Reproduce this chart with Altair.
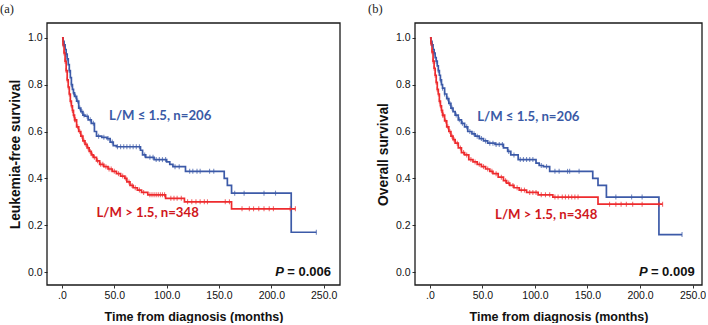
import altair as alt
import pandas as pd

# Axis ticks and their printed labels
month_ticks = [0, 50, 100, 150, 200, 250]
month_tick_labels = [".0", "50.0", "100.0", "150.0", "200.0", "250.0"]
surv_ticks = [0.0, 0.2, 0.4, 0.6, 0.8, 1.0]
surv_tick_labels = ["0.0", "0.2", "0.4", "0.6", "0.8", "1.0"]

groups = ["L/M \u2264 1.5", "L/M > 1.5"]
group_sizes = [206, 348]

# (a) Leukemia-free survival, L/M <= 1.5 : step times (months) and survival
lfs_low_t = [0, 1, 2, 3, 4, 5, 6, 7, 8, 9, 10, 11, 12, 14, 16, 18, 20, 22, 25, 28,
             31, 33, 38, 43, 46, 49, 52, 75, 77, 80, 88, 100, 103, 106, 118, 155,
             158, 162, 219]
lfs_low_s = [1.0, 0.985, 0.97, 0.95, 0.93, 0.91, 0.885, 0.86, 0.83, 0.80, 0.78,
             0.765, 0.75, 0.73, 0.70, 0.685, 0.67, 0.665, 0.65, 0.635, 0.60, 0.58,
             0.575, 0.57, 0.555, 0.54, 0.535, 0.52, 0.50, 0.49, 0.48, 0.47, 0.46,
             0.45, 0.43, 0.40, 0.37, 0.337, 0.17]
lfs_low_end = 243
lfs_low_censor = [2, 4, 5, 7, 9, 11, 13, 15, 17, 19, 21, 24, 27, 30, 35, 40, 44, 48,
                  53, 56, 59, 62, 65, 68, 71, 74, 79, 84, 87, 90, 93, 96, 99, 108,
                  112, 122, 125, 129, 132, 141, 145, 165, 174, 193, 204, 243]

# (a) Leukemia-free survival, L/M > 1.5
lfs_high_t = [0, 1, 2, 3, 4, 5, 6, 7, 8, 9, 10, 11, 12, 14, 16, 18, 20, 22, 24, 26,
              28, 30, 33, 36, 40, 44, 48, 52, 56, 60, 62, 65, 68, 72, 76, 82, 99,
              117, 162]
lfs_high_s = [1.0, 0.97, 0.935, 0.90, 0.86, 0.82, 0.79, 0.76, 0.73, 0.71, 0.69,
              0.67, 0.65, 0.62, 0.60, 0.58, 0.56, 0.545, 0.53, 0.515, 0.50, 0.49,
              0.475, 0.46, 0.45, 0.44, 0.43, 0.42, 0.41, 0.40, 0.385, 0.37, 0.36,
              0.35, 0.34, 0.33, 0.315, 0.30, 0.27]
lfs_high_end = 223
lfs_high_censor = [1, 2, 3, 4, 5, 6, 7, 8, 9, 10, 11, 12, 13, 15, 17, 19, 21, 23, 25,
                   27, 29, 31, 34, 37, 39, 42, 45, 47, 50, 54, 58, 61, 64, 67, 70, 74,
                   78, 84, 86, 88, 90, 92, 94, 96, 98, 104, 107, 110, 114, 120, 124,
                   128, 132, 136, 139, 156, 160, 172, 179, 183, 188, 193, 198, 202,
                   218, 223]

# (b) Overall survival, L/M <= 1.5
os_low_t = [0, 1, 2, 3, 4, 5, 6, 7, 8, 9, 10, 11, 12, 14, 16, 18, 20, 22, 24, 27, 30,
            33, 36, 40, 43, 47, 51, 55, 62, 70, 74, 77, 84, 101, 104, 108, 114, 155,
            160, 168, 218]
os_low_s = [1.0, 0.985, 0.97, 0.95, 0.935, 0.915, 0.90, 0.88, 0.86, 0.84, 0.82, 0.80,
            0.785, 0.76, 0.74, 0.72, 0.70, 0.685, 0.67, 0.65, 0.635, 0.62, 0.60, 0.59,
            0.58, 0.57, 0.56, 0.55, 0.545, 0.53, 0.515, 0.50, 0.48, 0.465, 0.455,
            0.45, 0.43, 0.40, 0.37, 0.32, 0.16]
os_low_end = 240
os_low_censor = [2, 4, 6, 8, 10, 12, 14, 17, 19, 21, 25, 28, 31, 35, 38, 42, 45, 49,
                 53, 57, 60, 63, 66, 69, 75, 80, 86, 89, 92, 95, 98, 106, 111, 119,
                 123, 131, 133, 142, 177, 192, 202, 240]

# (b) Overall survival, L/M > 1.5
os_high_t = [0, 1, 2, 3, 4, 5, 6, 7, 8, 9, 10, 11, 12, 14, 16, 18, 20, 22, 24, 27, 30,
             33, 37, 41, 45, 49, 53, 57, 60, 65, 70, 73, 76, 80, 85, 92, 103, 117, 160]
os_high_s = [1.0, 0.975, 0.94, 0.90, 0.87, 0.84, 0.81, 0.78, 0.76, 0.73, 0.71, 0.69,
             0.67, 0.645, 0.62, 0.60, 0.58, 0.565, 0.55, 0.53, 0.51, 0.50, 0.48, 0.47,
             0.46, 0.45, 0.44, 0.43, 0.42, 0.405, 0.39, 0.38, 0.37, 0.36, 0.35, 0.34,
             0.33, 0.32, 0.29]
os_high_end = 221.5
os_high_censor = [1, 2, 3, 4, 5, 6, 7, 8, 9, 10, 11, 12, 13, 15, 17, 19, 21, 23, 26,
                  29, 32, 35, 39, 43, 47, 51, 55, 59, 63, 68, 72, 75, 79, 83, 87, 90,
                  95, 98, 101, 106, 110, 114, 119, 122, 126, 129, 132, 135, 138, 141,
                  171, 177, 182, 187, 193, 202, 218, 221.5]

p_values = ["0.006", "0.009"]

BLUE = "#3c5aa8"
RED = "#ee2b2e"
BLUE_TXT = "#3a5aa6"
RED_TXT = "#d0171c"
AXIS_FONT = "Liberation Sans"
NOTE_FONT = "Lato"


def curve(times, surv, end):
    return pd.DataFrame({"t": times + [end], "s": surv + [surv[-1]]})


def censor_points(times, surv, censor):
    steps = pd.DataFrame({"t": [float(v) for v in times], "s": surv})
    marks = pd.DataFrame({"t": [float(v) for v in censor]})
    return pd.merge_asof(marks, steps, on="t")


def label_expr(values, labels):
    parts = " : ".join(
        f"datum.value == {v} ? '{lab}'" for v, lab in zip(values, labels)
    )
    return parts + " : ''"


def panel(tag, ytitle, low, high, pval, xdom, pos_low, pos_high, p_x, w, h):
    xs = alt.Scale(domain=xdom, nice=False, zero=False)
    ys = alt.Scale(domain=[-0.055, 1.063], nice=False, zero=False)
    xax = alt.Axis(values=month_ticks, labelExpr=label_expr(month_ticks, month_tick_labels),
                   title="Time from diagnosis (months)")
    yax = alt.Axis(values=surv_ticks, labelExpr=label_expr(surv_ticks, surv_tick_labels),
                   title=ytitle)
    X = alt.X("t:Q", scale=xs, axis=xax)
    Y = alt.Y("s:Q", scale=ys, axis=yax)

    def line_layer(df, color):
        return alt.Chart(df).mark_line(interpolate="step-after", color=color,
                                       strokeWidth=1.7).encode(x=X, y=Y)

    def censor_layer(df, color):
        return alt.Chart(df).mark_tick(orient="vertical", color=color, size=5,
                                       thickness=1.1).encode(x=X, y=Y)

    lo_line = line_layer(curve(*low[:3]), BLUE)
    hi_line = line_layer(curve(*high[:3]), RED)
    lo_cens = censor_layer(censor_points(low[0], low[1], low[3]), BLUE)
    hi_cens = censor_layer(censor_points(high[0], high[1], high[3]), RED)

    def note(text, color, x, y):
        return alt.Chart().mark_text(text=text, color=color, font=NOTE_FONT,
                                     fontWeight="bold", fontSize=13.2,
                                     align="left", baseline="middle").encode(
            x=alt.datum(x, scale=xs, axis=xax), y=alt.datum(y, scale=ys, axis=yax))

    n_low = note(f"{groups[0]}, n={group_sizes[0]}", BLUE_TXT, *pos_low)
    n_high = note(f"{groups[1]}, n={group_sizes[1]}", RED_TXT, *pos_high)

    p_rest = alt.Chart().mark_text(text=f" = {pval}", font=AXIS_FONT, fontWeight="bold",
                                   fontSize=13, align="right", baseline="middle",
                                   color="#111").encode(
        x=alt.datum(p_x, scale=xs, axis=xax), y=alt.datum(0.0, scale=ys, axis=yax))
    p_sym = alt.Chart().mark_text(text="P", font=AXIS_FONT, fontWeight="bold",
                                  fontStyle="italic", fontSize=13, align="right",
                                  baseline="middle", dx=-47, color="#111").encode(
        x=alt.datum(p_x, scale=xs, axis=xax), y=alt.datum(0.0, scale=ys, axis=yax))

    # dark box around the plotting area
    frame = alt.Chart().mark_rect(fill=None, stroke="#1a1a1a", strokeWidth=1.3).encode(
        x=alt.value(0), x2=alt.value(w), y=alt.value(0), y2=alt.value(h))

    return alt.layer(lo_line, hi_line, lo_cens, hi_cens, n_low, n_high, p_rest, p_sym,
                     frame).properties(
        width=w, height=h,
        title=alt.TitleParams(tag, anchor="start", frame="bounds", font="Liberation Serif",
                              fontSize=12.5, fontWeight="normal", color="#222", offset=7,
                              dx=-8, baseline="top"),
    )


pa = panel("(a)", "Leukemia-free survival",
           (lfs_low_t, lfs_low_s, lfs_low_end, lfs_low_censor),
           (lfs_high_t, lfs_high_s, lfs_high_end, lfs_high_censor),
           p_values[0], [-14.3, 265.6], (45, 0.667), (33, 0.252), 257, 293, 262)
pb = panel("(b)", "Overall survival",
           (os_low_t, os_low_s, os_low_end, os_low_censor),
           (os_high_t, os_high_s, os_high_end, os_high_censor),
           p_values[1], [-14.2, 259.0], (45, 0.66), (62, 0.242), 252, 287, 262)

chart = alt.hconcat(pa, pb, spacing=27).properties(
    padding={"left": 0, "top": 2, "right": 0, "bottom": 0},
    background="white",
).configure_view(
    strokeWidth=0
).configure_axis(
    domain=False, grid=False, tickSize=3, tickColor="#333", tickWidth=1,
    labelFont=AXIS_FONT, labelFontSize=10.5, labelColor="#111", labelPadding=2,
    titleFont=AXIS_FONT, titleFontSize=12.5, titleFontWeight="bold", titleColor="#111",
).configure_axisLeft(
    minExtent=18, maxExtent=18, titlePadding=7, titleFontSize=13.8
).configure_axisBottom(
    titlePadding=10
)

chart.save("out.html", embed_options={"renderer": "svg", "actions": False})
